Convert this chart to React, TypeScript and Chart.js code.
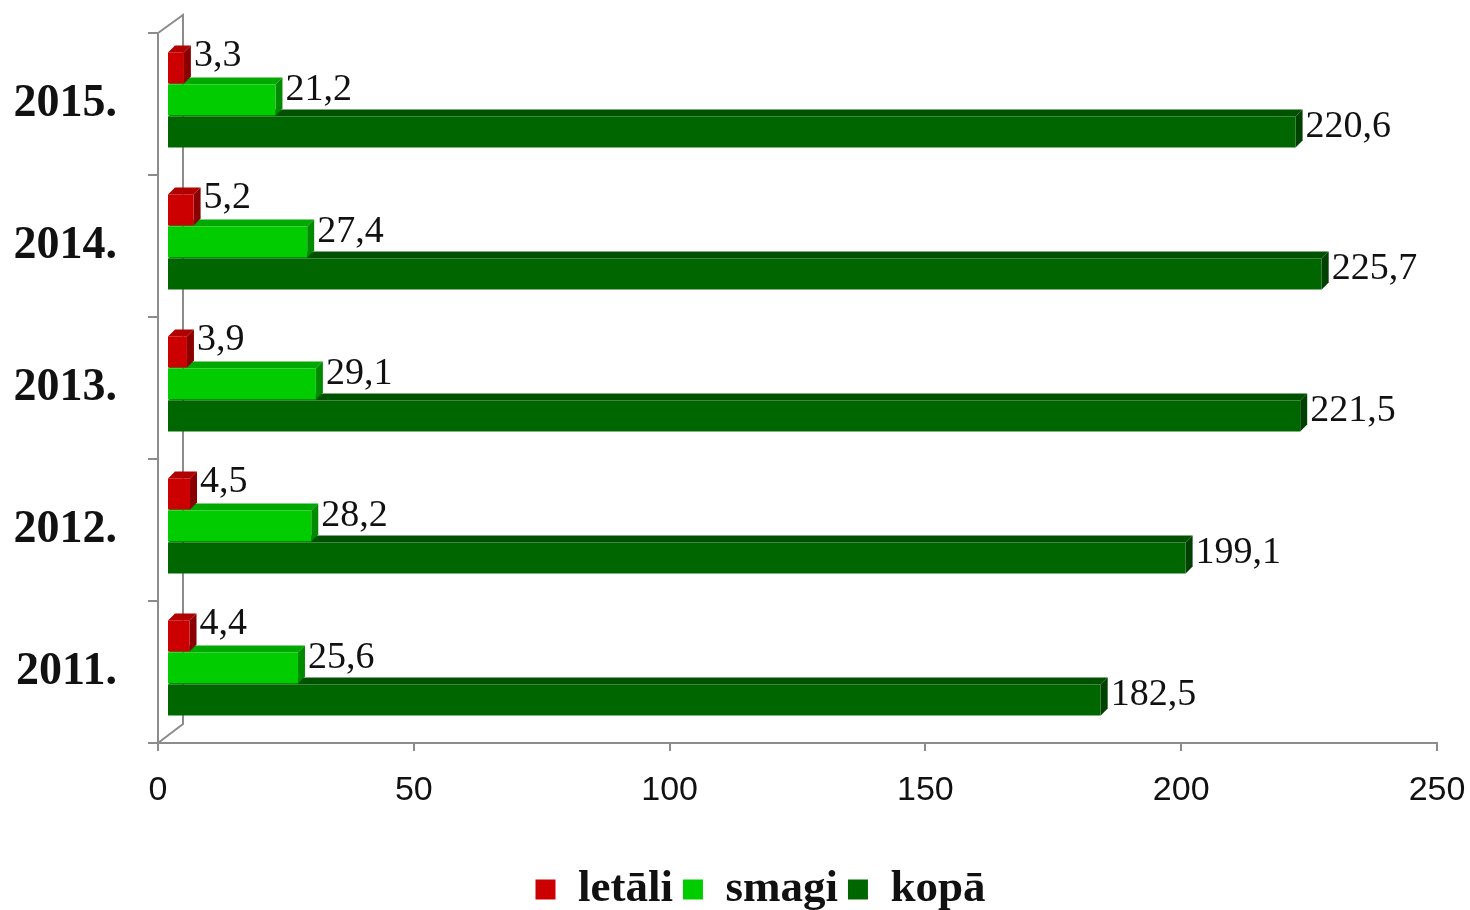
import React, { useEffect, useRef } from 'react';
import { Chart, registerables } from 'chart.js';
Chart.register(...registerables);

// ---- data ----
const years = ['2011.', '2012.', '2013.', '2014.', '2015.'];
const seriesNames = ['letāli', 'smagi', 'kopā'];
const letali = [4.4, 4.5, 3.9, 5.2, 3.3];
const smagi = [25.6, 28.2, 29.1, 27.4, 21.2];
const kopa = [182.5, 199.1, 221.5, 225.7, 220.6];
const xMin = 0;
const xMax = 250;
const xStep = 50;

// ---- styles ----
const frontColors = ['#CC0000', '#00CC00', '#006600'];
const topColors = ['#B00000', '#00A800', '#005200'];
const sideColors = ['#8A0000', '#008A00', '#004000'];
const labelDy = [-12, -10, -5];
const DX = 7;
const DY = 7;
const SHIFT_X = 9;
const SHIFT_Y = -4;
const LEGEND_SHIFT = 42;
const AXIS_COLOR = '#8c8c8c';

const fmt = (v: number) => v.toFixed(1).replace('.', ',');

const bar3d = {
  id: 'bar3d',
  afterLayout(chart: any) {
    const lg = chart.legend;
    if (lg) {
      lg.left += LEGEND_SHIFT;
      lg.right += LEGEND_SHIFT;
    }
  },
  beforeDatasetsDraw(chart: any) {
    const { ctx, chartArea } = chart;
    const L = chartArea.left;
    const T = chartArea.top;
    const B = chartArea.bottom;
    ctx.save();
    ctx.strokeStyle = AXIS_COLOR;
    ctx.lineWidth = 2;
    ctx.beginPath();
    ctx.moveTo(L, T);
    ctx.lineTo(L + 25, T - 18);
    ctx.lineTo(L + 25, B - 19);
    ctx.lineTo(L, B);
    ctx.stroke();
    ctx.restore();
  },
  beforeDatasetDraw(chart: any, args: any) {
    const ctx = chart.ctx;
    ctx.save();
    ctx.translate(SHIFT_X, SHIFT_Y);
    const i = args.index;
    args.meta.data.forEach((bar: any) => {
      const { x, y, base, height } = bar.getProps(['x', 'y', 'base', 'height'], true);
      const top = y - height / 2;
      const bottom = y + height / 2;
      ctx.fillStyle = topColors[i];
      ctx.beginPath();
      ctx.moveTo(base, top);
      ctx.lineTo(base + DX, top - DY);
      ctx.lineTo(x + DX, top - DY);
      ctx.lineTo(x, top);
      ctx.closePath();
      ctx.fill();
      ctx.fillStyle = sideColors[i];
      ctx.beginPath();
      ctx.moveTo(x, top);
      ctx.lineTo(x + DX, top - DY);
      ctx.lineTo(x + DX, bottom - DY);
      ctx.lineTo(x, bottom);
      ctx.closePath();
      ctx.fill();
    });
  },
  afterDatasetDraw(chart: any) {
    chart.ctx.restore();
  },
  afterDatasetsDraw(chart: any) {
    const ctx = chart.ctx;
    ctx.save();
    ctx.font = '38px "Liberation Serif", "Times New Roman", serif';
    ctx.fillStyle = '#111';
    ctx.textAlign = 'left';
    ctx.textBaseline = 'middle';
    chart.data.datasets.forEach((ds: any, i: number) => {
      const meta = chart.getDatasetMeta(i);
      meta.data.forEach((bar: any, j: number) => {
        const { x, y } = bar.getProps(['x', 'y'], true);
        ctx.fillText(fmt(ds.data[j]), x + SHIFT_X + DX + 3, y + SHIFT_Y + labelDy[i]);
      });
    });
    ctx.restore();
  },
};

export default function App() {
  const ref = useRef<HTMLCanvasElement>(null);
  useEffect(() => {
    document.body.style.margin = '0';
    const canvas = ref.current;
    if (!canvas) return;
    const values = [letali, smagi, kopa];
    const chart = new Chart(canvas, {
      type: 'bar',
      data: {
        labels: years,
        datasets: values.map((d, i) => ({
          label: seriesNames[i],
          data: d,
          backgroundColor: frontColors[i],
          borderWidth: 0,
          categoryPercentage: 0.677,
          barPercentage: 0.97,
          clip: false as any,
        })),
      },
      options: {
        indexAxis: 'y',
        animation: false,
        responsive: false,
        devicePixelRatio: 1,
        layout: { padding: { top: 33, right: 33, left: 0, bottom: -12 } },
        plugins: {
          legend: {
            position: 'bottom',
            labels: {
              boxWidth: 20,
              boxHeight: 20,
              padding: 10,
              color: '#111',
              font: { family: '"Liberation Serif", "Times New Roman", serif', size: 45, weight: 'bold' },
            },
          },
          tooltip: { enabled: false },
        },
        scales: {
          y: {
            reverse: true,
            grid: {
              drawOnChartArea: false,
              drawTicks: true,
              tickLength: 10,
              color: AXIS_COLOR,
              lineWidth: 2,
              offset: true,
            },
            border: { color: AXIS_COLOR, width: 2 },
            ticks: {
              color: '#111',
              padding: 31,
              font: { family: '"Liberation Serif", "Times New Roman", serif', size: 46, weight: 'bold' },
            },
            afterFit: (s: any) => {
              s.width = 158;
              s.paddingTop = 0;
              s.paddingBottom = 0;
            },
          },
          x: {
            min: xMin,
            max: xMax,
            grid: {
              drawOnChartArea: false,
              drawTicks: true,
              tickLength: 8,
              color: AXIS_COLOR,
              lineWidth: 2,
            },
            border: { color: AXIS_COLOR, width: 2 },
            ticks: {
              stepSize: xStep,
              color: '#111',
              padding: 19,
              font: { family: '"Liberation Sans", Arial, sans-serif', size: 34 },
            },
            afterFit: (s: any) => {
              s.height = 114;
              s.paddingLeft = 0;
              s.paddingRight = 0;
            },
          },
        },
      } as any,
      plugins: [bar3d],
    });
    return () => chart.destroy();
  }, []);
  return (
    <div style={{ width: 1470, height: 910, background: '#fff' }}>
      <canvas ref={ref} width={1470} height={910} />
    </div>
  );
}
